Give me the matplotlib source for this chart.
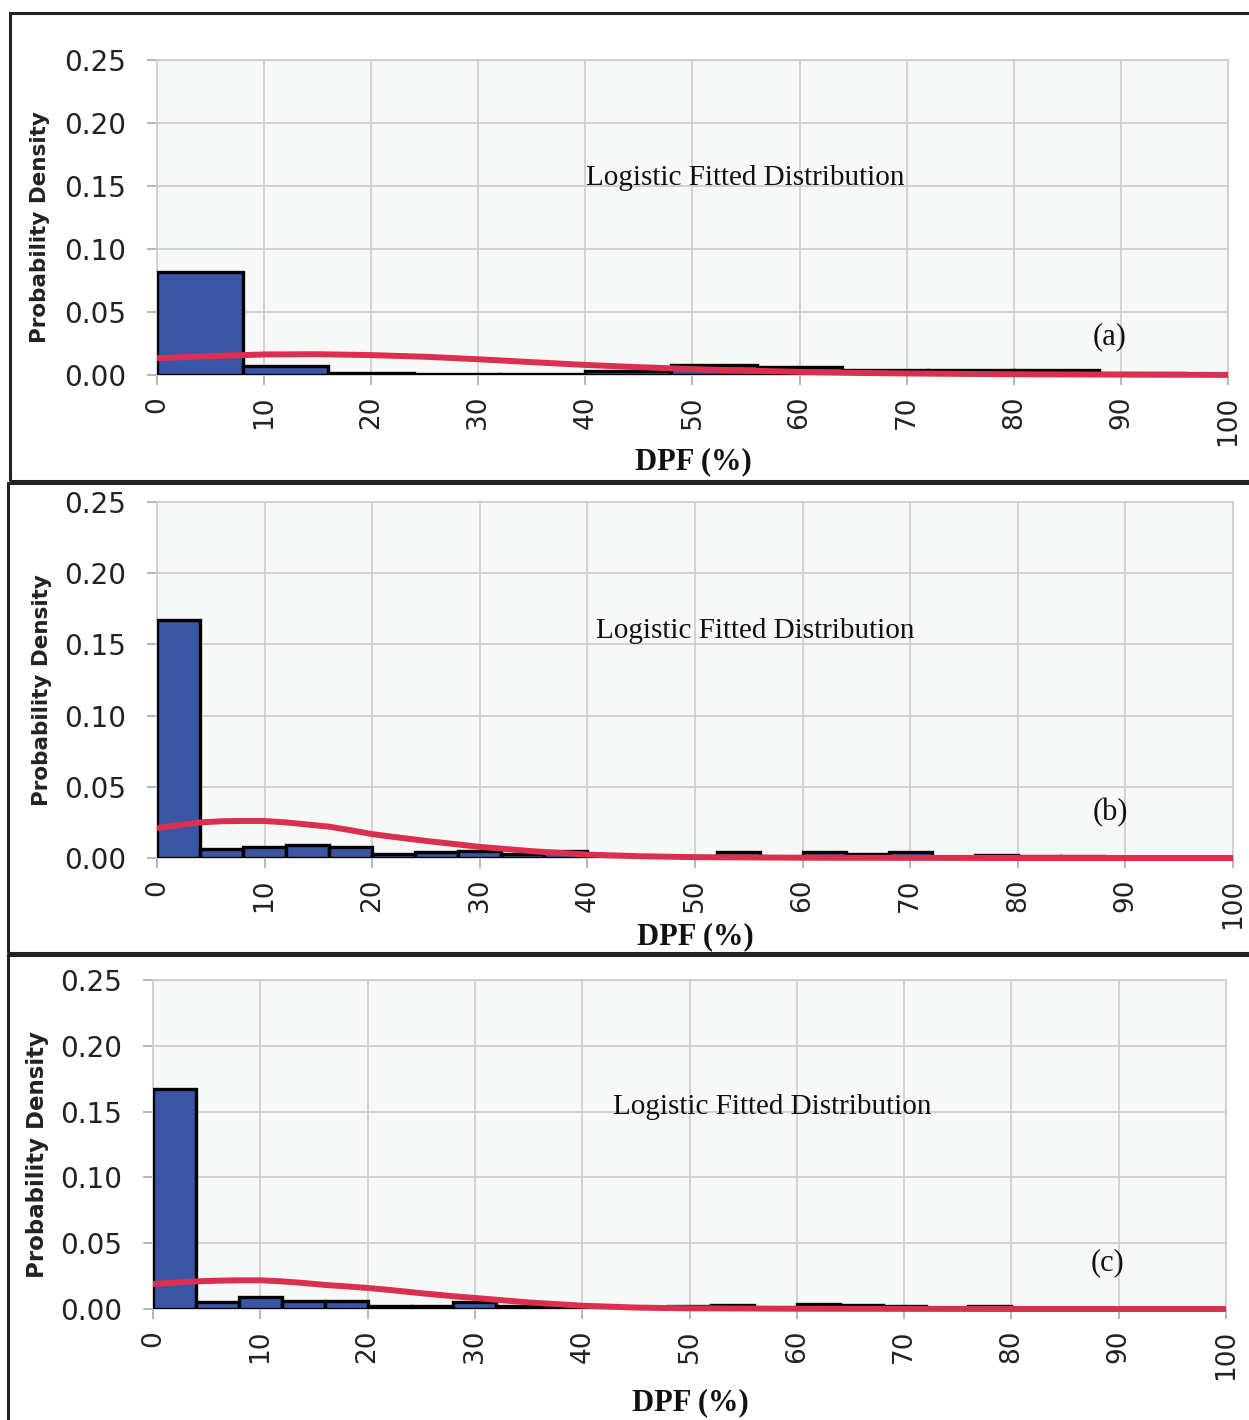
import numpy as np
import matplotlib.pyplot as plt
from matplotlib.patches import Rectangle

W, H = 1249, 1420

# histogram data (bin width 8 for a, 4 for b and c)
edges_a = [0, 8, 16, 24, 32, 40, 48, 56, 64, 72, 80, 88]
dens_a = [0.082, 0.0072, 0.0015, 0.001, 0.001, 0.0035, 0.008, 0.006, 0.004, 0.004, 0.004, 0.0015]

edges_b = [0, 4, 8, 12, 16, 20, 24, 28, 32, 36, 40, 44, 48, 52, 56, 60, 64, 68, 72, 76, 80, 84]
dens_b = [0.167, 0.006, 0.008, 0.009, 0.008, 0.003, 0.0045, 0.005, 0.003, 0.005, 0.001, 0.0,
          0.0, 0.004, 0.0, 0.004, 0.003, 0.004, 0.0, 0.002, 0.0015, 0.0015]

edges_c = [0, 4, 8, 12, 16, 20, 24, 28, 32, 36, 40, 44, 48, 52, 56, 60, 64, 68, 72, 76, 80, 84, 88, 92]
dens_c = [0.167, 0.0053, 0.0089, 0.0063, 0.0063, 0.0025, 0.0025, 0.0053, 0.0025, 0.0015, 0.001, 0.001,
          0.002, 0.003, 0.001, 0.004, 0.003, 0.002, 0.001, 0.002, 0.001, 0.001, 0.001, 0.001]

# fitted logistic curves
curve_x_a = [0, 5, 10, 15, 20, 25, 30, 35, 40, 45, 50, 55, 60, 65, 70, 80, 90, 100]
curve_y_a = [0.0133, 0.015, 0.0163, 0.0165, 0.0158, 0.0145, 0.0125, 0.0102, 0.008, 0.0062,
             0.0047, 0.0035, 0.0025, 0.0017, 0.0012, 0.0006, 0.0003, 0.0001]

curve_x_b = [0, 2, 4, 6, 8, 10, 12, 14, 16, 18, 20, 22, 25, 28, 30, 35, 40, 45, 50, 60, 70, 80, 100]
curve_y_b = [0.021, 0.023, 0.025, 0.0258, 0.026, 0.026, 0.025, 0.0235, 0.022, 0.0195, 0.0168, 0.0148,
             0.012, 0.0095, 0.0078, 0.0047, 0.0024, 0.0012, 0.0006, 0.0002, 0.0001, 0.0, 0.0]

curve_x_c = [0, 2, 4, 6, 8, 10, 12, 14, 16, 18, 20, 22, 25, 28, 30, 35, 40, 45, 50, 60, 70, 80, 100]
curve_y_c = [0.019, 0.020, 0.021, 0.0215, 0.0218, 0.0218, 0.021, 0.0198, 0.0183, 0.0172, 0.016, 0.0145,
             0.012, 0.0097, 0.0084, 0.005, 0.0025, 0.0011, 0.0005, 0.0002, 0.0001, 0.0, 0.0]

x_ticks = [0, 10, 20, 30, 40, 50, 60, 70, 80, 90, 100]
y_ticks = [0.00, 0.05, 0.10, 0.15, 0.20, 0.25]
tags = ["(a)", "(b)", "(c)"]

BLUE = "#3a55a4"
RED = "#db2f50"
GRID = "#cccccc"

fig = plt.figure(figsize=(W / 100, H / 100), dpi=100)
fig.patch.set_facecolor("white")


def fx(px):
    return px / W


def fy(px):
    return 1 - px / H


# panel pixel boxes: axes left, right, top, bottom; frame left, top, bottom
panels = [
    dict(ax=(157, 1228, 60, 375), frame=(10, 13, 481), ylab=40, ylsize=15.5,
         text=(745, 178), tag=(1110, 337), xlab=(693, 462)),
    dict(ax=(157, 1233, 502, 858), frame=(8, 483, 953), ylab=42, ylsize=15.5,
         text=(755, 631), tag=(1110, 813), xlab=(695, 937)),
    dict(ax=(153, 1226, 980, 1309), frame=(8, 955, 1430), ylab=38, ylsize=16.5,
         text=(772, 1107), tag=(1108, 1263), xlab=(690, 1403)),
]
hist = [(edges_a, dens_a, 8), (edges_b, dens_b, 4), (edges_c, dens_c, 4)]
curves = [(curve_x_a, curve_y_a), (curve_x_b, curve_y_b), (curve_x_c, curve_y_c)]

for i, p in enumerate(panels):
    l, r, t, b = p["ax"]
    fl, ft, fb = p["frame"]
    fig.patches.append(Rectangle((fx(fl), fy(fb)), fx(W + 20 - fl), (fb - ft) / H,
                                 transform=fig.transFigure, fill=False,
                                 ec="#222222", lw=2.2, zorder=0))

    ax = fig.add_axes([fx(l), fy(b), (r - l) / W, (b - t) / H])
    ax.set_facecolor("#f7f8f8")
    edges, dens, w = hist[i]
    ax.bar(edges, dens, width=w, align="edge", color=BLUE, edgecolor="black",
           linewidth=2.4, zorder=3)
    cx, cy = curves[i]
    ax.plot(cx, cy, color=RED, lw=4.3, zorder=4, clip_on=False, solid_capstyle="butt")

    ax.set_xlim(0, 100)
    ax.set_ylim(0, 0.25)
    ax.set_xticks(x_ticks)
    ax.set_yticks(y_ticks)
    ax.set_yticklabels(["%.2f" % v for v in y_ticks])
    ax.grid(True, color=GRID, lw=1.2, zorder=0)
    for s in ax.spines.values():
        s.set_color(GRID)
        s.set_linewidth(1.2)
    ax.tick_params(axis="y", length=7, width=1.2, color="#aaaaaa", pad=15,
                   labelsize=20, labelcolor="#222222")
    ax.tick_params(axis="x", length=7, width=1.2, color="#aaaaaa", pad=8,
                   labelsize=19, labelrotation=90, labelcolor="#222222")

    fig.text(fx(p["ylab"]), fy((t + b) / 2 + 10), "Probability Density", rotation=90,
             ha="center", va="center", fontsize=p["ylsize"], fontweight="bold",
             color="#222222")
    fig.text(fx(p["xlab"][0]), fy(p["xlab"][1]), "DPF (%)", ha="center", va="center",
             fontsize=22, fontweight="bold", family="Liberation Serif", color="#111111")
    fig.text(fx(p["text"][0]), fy(p["text"][1]), "Logistic Fitted Distribution",
             ha="center", va="center", fontsize=21, family="Liberation Serif",
             color="#111111")
    fig.text(fx(p["tag"][0]), fy(p["tag"][1]), tags[i], ha="center", va="center",
             fontsize=22, family="Liberation Serif", color="#111111")

fig.savefig("out.png", dpi=100)
